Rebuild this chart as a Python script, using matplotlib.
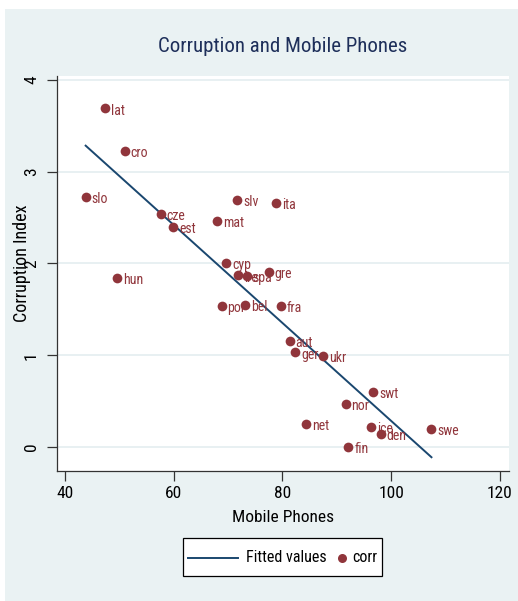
import matplotlib

matplotlib.use("Agg")
import matplotlib.pyplot as plt
import numpy as np
from matplotlib.lines import Line2D
from matplotlib.patches import Rectangle

# country codes, mobile phones per 100 people, corruption index
countries = ["lat", "cro", "slo", "cze", "est", "mat", "slv", "ita", "cyp", "ire",
             "spa", "gre", "hun", "por", "bel", "fra", "aut", "ger", "ukr", "swt",
             "nor", "net", "ice", "den", "swe", "fin"]
phones = [47.4, 51.0, 43.8, 57.6, 59.9, 68.0, 71.7, 78.8, 69.7, 71.8,
          73.4, 77.5, 49.6, 68.8, 73.1, 79.7, 81.3, 82.3, 87.5, 96.7,
          91.6, 84.3, 96.3, 98.1, 107.4, 92.1]
corr = [3.69, 3.23, 2.73, 2.54, 2.40, 2.46, 2.69, 2.66, 2.01, 1.87,
        1.86, 1.91, 1.84, 1.54, 1.55, 1.54, 1.16, 1.03, 0.99, 0.60,
        0.47, 0.25, 0.22, 0.14, 0.20, 0.00]
xticks = [40, 60, 80, 100, 120]
yticks = [0, 1, 2, 3, 4]

NARROW = ["Roboto Condensed", "DejaVu Sans"]
PANEL = "#eaf2f3"
GRID = "#e4eef0"
NAVY = "#1a476f"
MAROON = "#90353b"
TITLE = "#1e2f5a"
AXIS = "#333333"

plt.rcParams["font.family"] = NARROW

W, H = 518, 601
fig = plt.figure(figsize=(W / 100, H / 100), dpi=100)
fig.patch.set_facecolor("white")


def fx(px):
    return px / W


def fy(py):
    return 1 - py / H


fig.add_artist(Rectangle((fx(5), 0), 1 - fx(5), fy(9), transform=fig.transFigure,
                         facecolor=PANEL, edgecolor="none", zorder=0))

ax = fig.add_axes([fx(57), fy(471), fx(452), 395 / H])
ax.set_facecolor("white")
ax.set_xlim(38.53, 121.66)
ax.set_ylim(-0.2616, 4.0436)

for s in ("top", "right"):
    ax.spines[s].set_visible(False)
for s in ("left", "bottom"):
    ax.spines[s].set_color(AXIS)
    ax.spines[s].set_linewidth(0.9)

ax.set_xticks(xticks)
ax.set_yticks(yticks)
ax.tick_params(axis="both", direction="out", length=7, width=0.9, color=AXIS,
               labelsize=12.5)
ax.tick_params(axis="x", pad=4)
ax.tick_params(axis="y", pad=6)
for lab in ax.get_yticklabels():
    lab.set_rotation(90)
    lab.set_va("center")
ax.grid(True, axis="y", color=GRID, lw=1.2)
ax.set_axisbelow(True)

# least-squares line over the observed range
x = np.array(phones, float)
y = np.array(corr, float)
b, a = np.polyfit(x, y, 1)
xs = np.array([x.min(), x.max()])
ax.plot(xs, a + b * xs, color=NAVY, lw=1.4, zorder=3)

ax.plot(x, y, ls="none", marker="o", ms=7, mfc=MAROON, mec=MAROON, mew=0,
        zorder=4)
for name, px, py in zip(countries, phones, corr):
    ax.annotate(name, (px, py), xytext=(4.3, -1.5), textcoords="offset points",
                ha="left", va="center", fontsize=10, color=MAROON, zorder=4)

ax.set_xlabel("Mobile Phones", fontsize=12.5)
ax.xaxis.set_label_coords((283 - 57) / 452, (471 - 517) / 395)
ax.xaxis.label.set_va("center")
ax.set_ylabel("Corruption Index", fontsize=13)
ax.yaxis.set_label_coords((22 - 57) / 452, (471 - 263) / 395)
ax.yaxis.label.set_va("center")

fig.text(fx(283), fy(47), "Corruption and Mobile Phones",
         ha="center", va="center", fontsize=15, color=TITLE)

# legend box drawn by hand so the two keys sit like the original layout
fig.add_artist(Rectangle((fx(183), fy(576)), fx(199), 38 / H, transform=fig.transFigure,
                         facecolor="white", edgecolor="black", lw=0.9, zorder=5))
fig.add_artist(Line2D([fx(188), fx(238)], [fy(558), fy(558)], transform=fig.transFigure,
                      color=NAVY, lw=1.4, zorder=6))
fig.text(fx(246), fy(558), "Fitted values", ha="left", va="center", fontsize=11.5, zorder=6)
fig.add_artist(Line2D([fx(342)], [fy(558)], transform=fig.transFigure, ls="none",
                      marker="o", ms=6.5, mfc=MAROON, mec=MAROON, mew=0, zorder=6))
fig.text(fx(352), fy(558), "corr", ha="left", va="center", fontsize=11.5, zorder=6)

fig.savefig("out.png", dpi=100)
